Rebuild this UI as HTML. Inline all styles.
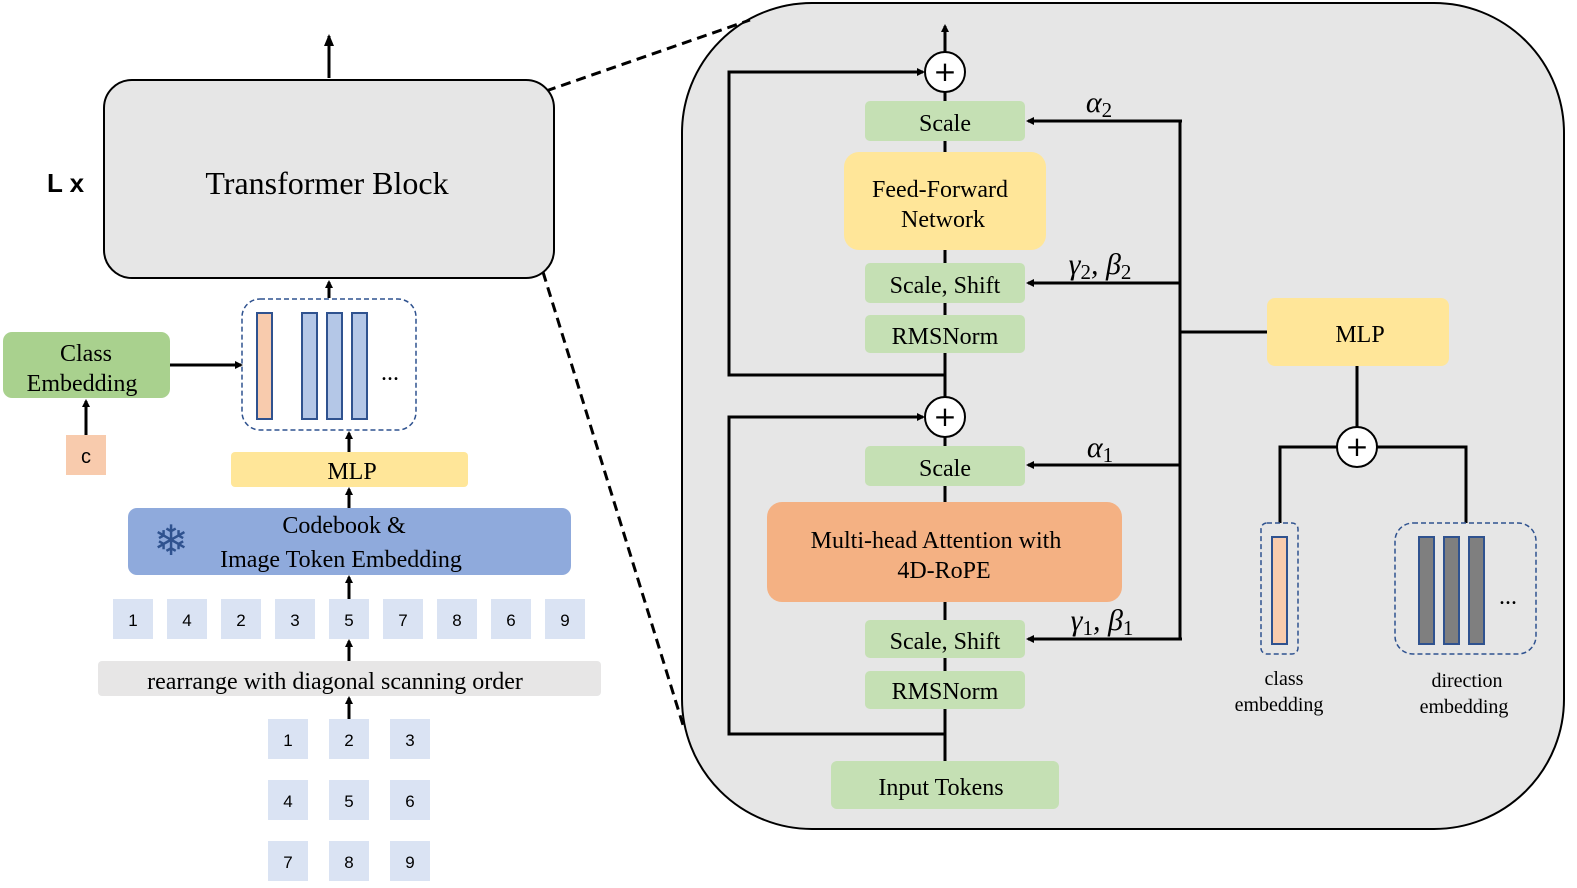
<!DOCTYPE html>
<html><head><style>body{margin:0;background:#fff}svg{display:block}</style></head><body>
<svg width="1577" height="888" viewBox="0 0 1577 888" xmlns="http://www.w3.org/2000/svg" font-family="Liberation Serif, serif">
<defs><marker id="a" markerWidth="8" markerHeight="8" refX="6" refY="4" orient="auto" markerUnits="userSpaceOnUse"><path d="M0,0 L8,4 L0,8 z" fill="#000"/></marker>
<marker id="b" markerWidth="12" markerHeight="10" refX="10" refY="5" orient="auto" markerUnits="userSpaceOnUse"><path d="M0,0 L12,5 L0,10 z" fill="#000"/></marker></defs>
<rect x="682" y="3" width="882" height="826" rx="130" fill="#e6e6e6" stroke="#000" stroke-width="2"/>
<line x1="546" y1="91" x2="750" y2="20" stroke="#000" stroke-width="3" stroke-dasharray="10,6"/>
<line x1="543" y1="272" x2="683" y2="725" stroke="#000" stroke-width="3" stroke-dasharray="10,6"/>
<line x1="329" y1="78" x2="329" y2="36" stroke="#000" stroke-width="3" marker-end="url(#b)"/>
<rect x="104" y="80" width="450" height="198" rx="28" fill="#e6e6e6" stroke="#000" stroke-width="2"/>
<text x="327" y="194" font-size="32" text-anchor="middle">Transformer Block</text>
<text x="47" y="192" font-size="26" font-weight="bold" font-family="Liberation Sans, sans-serif">L x</text>
<line x1="329" y1="298" x2="329" y2="282" stroke="#000" stroke-width="3" marker-end="url(#a)"/>
<rect x="242" y="299" width="174" height="131" rx="18" fill="#fff" stroke="#2f528f" stroke-width="1.5" stroke-dasharray="5,3"/>
<rect x="257" y="313" width="15" height="106" fill="#f8cbad" stroke="#2f528f" stroke-width="2"/>
<rect x="302" y="313" width="15" height="106" fill="#b4c7e7" stroke="#2f528f" stroke-width="2"/>
<rect x="327" y="313" width="15" height="106" fill="#b4c7e7" stroke="#2f528f" stroke-width="2"/>
<rect x="352" y="313" width="15" height="106" fill="#b4c7e7" stroke="#2f528f" stroke-width="2"/>
<text x="390" y="380" font-size="24" text-anchor="middle">...</text>
<rect x="3" y="332" width="167" height="66" rx="9" fill="#a9d18e"/>
<text x="86" y="361" font-size="24" text-anchor="middle">Class</text>
<text x="82" y="391" font-size="24" text-anchor="middle">Embedding</text>
<line x1="170" y1="365" x2="241" y2="365" stroke="#000" stroke-width="3" marker-end="url(#a)"/>
<rect x="66" y="435" width="40" height="40" fill="#f8cbad"/>
<text x="86" y="463" font-size="20" text-anchor="middle" font-family="Liberation Sans, sans-serif">c</text>
<line x1="86" y1="435" x2="86" y2="401" stroke="#000" stroke-width="3" marker-end="url(#a)"/>
<rect x="231" y="452" width="237" height="35" rx="4" fill="#ffe699"/>
<text x="352" y="479" font-size="24" text-anchor="middle">MLP</text>
<line x1="349" y1="452" x2="349" y2="433" stroke="#000" stroke-width="3" marker-end="url(#a)"/>
<rect x="128" y="508" width="443" height="67" rx="9" fill="#8faadc"/>
<text x="344" y="533" font-size="24" text-anchor="middle">Codebook &amp;</text>
<text x="341" y="567" font-size="24" text-anchor="middle">Image Token Embedding</text>
<text x="171" y="555" font-size="42" text-anchor="middle" fill="#2f528f" font-family="DejaVu Sans, sans-serif">❄</text>
<line x1="349" y1="508" x2="349" y2="489" stroke="#000" stroke-width="3" marker-end="url(#a)"/>
<g font-family="Liberation Sans, sans-serif" font-size="17" text-anchor="middle">
<g fill="#dae3f3"><rect x="113" y="599" width="40" height="40"/><rect x="167" y="599" width="40" height="40"/><rect x="221" y="599" width="40" height="40"/><rect x="275" y="599" width="40" height="40"/><rect x="329" y="599" width="40" height="40"/><rect x="383" y="599" width="40" height="40"/><rect x="437" y="599" width="40" height="40"/><rect x="491" y="599" width="40" height="40"/><rect x="545" y="599" width="40" height="40"/>
<rect x="268" y="719" width="40" height="40"/><rect x="329" y="719" width="40" height="40"/><rect x="390" y="719" width="40" height="40"/><rect x="268" y="780" width="40" height="40"/><rect x="329" y="780" width="40" height="40"/><rect x="390" y="780" width="40" height="40"/><rect x="268" y="841" width="40" height="40"/><rect x="329" y="841" width="40" height="40"/><rect x="390" y="841" width="40" height="40"/></g>
<text x="133" y="626">1</text><text x="187" y="626">4</text><text x="241" y="626">2</text><text x="295" y="626">3</text><text x="349" y="626">5</text><text x="403" y="626">7</text><text x="457" y="626">8</text><text x="511" y="626">6</text><text x="565" y="626">9</text>
<text x="288" y="746">1</text><text x="349" y="746">2</text><text x="410" y="746">3</text><text x="288" y="807">4</text><text x="349" y="807">5</text><text x="410" y="807">6</text><text x="288" y="868">7</text><text x="349" y="868">8</text><text x="410" y="868">9</text></g>
<line x1="349" y1="599" x2="349" y2="577" stroke="#000" stroke-width="3" marker-end="url(#a)"/>
<line x1="349" y1="661" x2="349" y2="641" stroke="#000" stroke-width="3" marker-end="url(#a)"/>
<rect x="98" y="661" width="503" height="35" rx="4" fill="#e7e6e6"/>
<text x="335" y="689" font-size="24" text-anchor="middle">rearrange with diagonal scanning order</text>
<line x1="349" y1="719" x2="349" y2="698" stroke="#000" stroke-width="3" marker-end="url(#a)"/>
<line x1="945" y1="761" x2="945" y2="26" stroke="#000" stroke-width="3" marker-end="url(#a)"/>
<polyline points="945,734 729,734 729,417 923,417" fill="none" stroke="#000" stroke-width="3" marker-end="url(#a)"/>
<polyline points="945,375 729,375 729,72 923,72" fill="none" stroke="#000" stroke-width="3" marker-end="url(#a)"/>
<rect x="831" y="761" width="228" height="48" rx="6" fill="#c5e0b4"/>
<text x="941" y="795" font-size="24" text-anchor="middle">Input Tokens</text>
<g fill="#c5e0b4">
<rect x="865" y="671" width="160" height="38" rx="5"/><rect x="865" y="620" width="160" height="38" rx="5"/><rect x="865" y="446" width="160" height="40" rx="5"/>
<rect x="865" y="315" width="160" height="38" rx="5"/><rect x="865" y="263" width="160" height="40" rx="5"/><rect x="865" y="101" width="160" height="40" rx="5"/></g>
<rect x="767" y="502" width="355" height="100" rx="15" fill="#f4b183"/>
<rect x="844" y="152" width="202" height="98" rx="15" fill="#ffe699"/>
<g font-size="24" text-anchor="middle">
<text x="945" y="699">RMSNorm</text><text x="945" y="649">Scale, Shift</text><text x="945" y="476">Scale</text>
<text x="936" y="548">Multi-head Attention with</text><text x="944" y="578">4D-RoPE</text>
<text x="945" y="344">RMSNorm</text><text x="945" y="293">Scale, Shift</text><text x="945" y="131">Scale</text>
<text x="940" y="197">Feed-Forward</text><text x="943" y="227">Network</text></g>
<circle cx="945" cy="417" r="20" fill="#fff" stroke="#000" stroke-width="2"/>
<text x="945" y="426" font-size="28" text-anchor="middle" font-family="DejaVu Sans, sans-serif">+</text>
<circle cx="945" cy="72" r="20" fill="#fff" stroke="#000" stroke-width="2"/>
<text x="945" y="81" font-size="28" text-anchor="middle" font-family="DejaVu Sans, sans-serif">+</text>
<polyline points="1180,121 1180,639" fill="none" stroke="#000" stroke-width="3"/>
<g stroke="#000" stroke-width="3"><line x1="1182" y1="121" x2="1028" y2="121" marker-end="url(#a)"/><line x1="1180" y1="283" x2="1028" y2="283" marker-end="url(#a)"/><line x1="1180" y1="465" x2="1028" y2="465" marker-end="url(#a)"/><line x1="1182" y1="639" x2="1028" y2="639" marker-end="url(#a)"/><line x1="1180" y1="332" x2="1267" y2="332"/></g>
<g font-size="30" font-style="italic" text-anchor="middle">
<text x="1099" y="112">α<tspan font-size="21" font-style="normal" dy="5">2</tspan></text>
<text x="1100" y="274">γ<tspan font-size="21" font-style="normal" dy="5">2</tspan><tspan dy="-5">, β</tspan><tspan font-size="21" font-style="normal" dy="5">2</tspan></text>
<text x="1100" y="457">α<tspan font-size="21" font-style="normal" dy="5">1</tspan></text>
<text x="1102" y="630">γ<tspan font-size="21" font-style="normal" dy="5">1</tspan><tspan dy="-5">, β</tspan><tspan font-size="21" font-style="normal" dy="5">1</tspan></text></g>
<rect x="1267" y="298" width="182" height="68" rx="8" fill="#ffe699"/>
<text x="1360" y="342" font-size="24" text-anchor="middle">MLP</text>
<polyline points="1357,366 1357,427" stroke="#000" stroke-width="3" fill="none"/>
<polyline points="1337,447 1280,447 1280,523" stroke="#000" stroke-width="3" fill="none"/>
<polyline points="1377,447 1466,447 1466,523" stroke="#000" stroke-width="3" fill="none"/>
<circle cx="1357" cy="447" r="20" fill="#fff" stroke="#000" stroke-width="2"/>
<text x="1357" y="456" font-size="28" text-anchor="middle" font-family="DejaVu Sans, sans-serif">+</text>
<rect x="1261" y="523" width="37" height="131" rx="6" fill="none" stroke="#2f528f" stroke-width="1.5" stroke-dasharray="5,3"/>
<rect x="1272" y="537" width="15" height="107" fill="#f8cbad" stroke="#2f528f" stroke-width="2"/>
<rect x="1395" y="523" width="141" height="131" rx="18" fill="none" stroke="#2f528f" stroke-width="1.5" stroke-dasharray="5,3"/>
<rect x="1419" y="537" width="15" height="107" fill="#7f7f7f" stroke="#2f528f" stroke-width="2"/>
<rect x="1444" y="537" width="15" height="107" fill="#7f7f7f" stroke="#2f528f" stroke-width="2"/>
<rect x="1469" y="537" width="15" height="107" fill="#7f7f7f" stroke="#2f528f" stroke-width="2"/>
<text x="1508" y="604" font-size="24" text-anchor="middle">...</text>
<g font-size="20" text-anchor="middle"><text x="1284" y="685">class</text><text x="1279" y="711">embedding</text><text x="1467" y="687">direction</text><text x="1464" y="713">embedding</text></g>
</svg>
</body></html>
